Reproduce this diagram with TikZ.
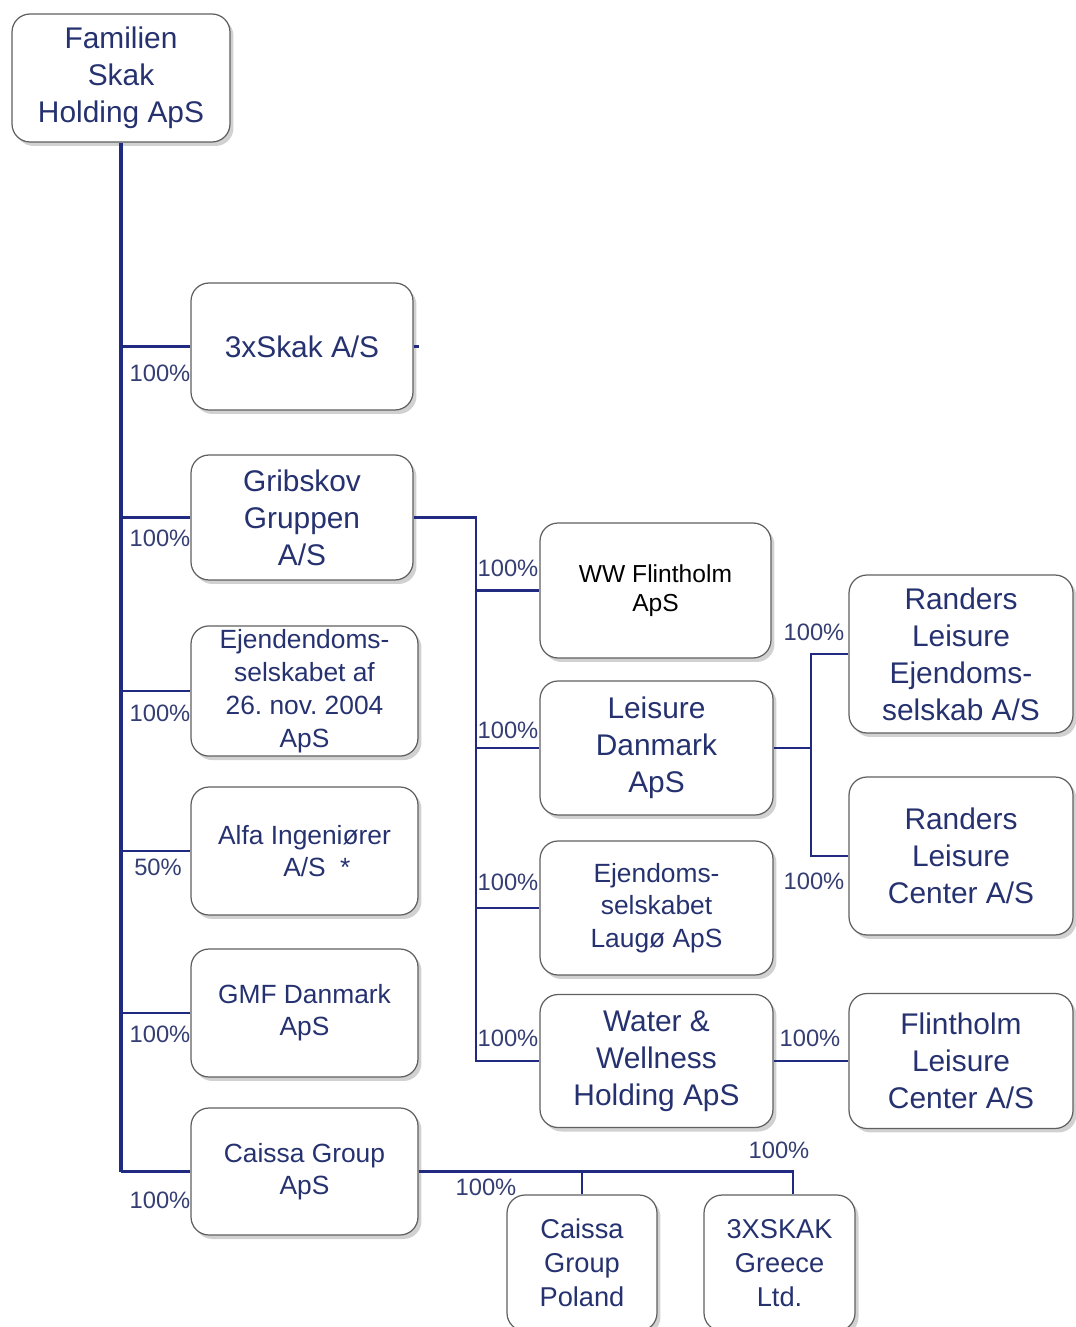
\documentclass[tikz,border=0pt]{standalone}
\usepackage{fontspec}
\setmainfont{Liberation Sans}
\frenchspacing
\usetikzlibrary{shadows}
\definecolor{navy}{RGB}{38,50,112}
\definecolor{linkblue}{RGB}{32,42,128}
\tikzstyle{company}=[rectangle,rounded corners=0.36cm,draw=gray!75!black,line width=0.7pt,fill=white,align=center,text=navy,inner sep=2pt,drop shadow={shadow xshift=0.07cm,shadow yshift=-0.08cm,opacity=0.45,fill=gray!80}]
\tikzstyle{bigtext}=[font=\fontsize{17}{21}\selectfont]
\tikzstyle{smalltext}=[font=\fontsize{15}{18.6}\selectfont]
\tikzstyle{share}=[text=navy!85!gray,font=\fontsize{13.5}{16}\selectfont,inner sep=0pt]
\tikzstyle{link}=[draw=linkblue,line width=1.3pt]
\tikzstyle{trunk}=[draw=linkblue,line width=2.2pt]

\begin{document}
\begin{tikzpicture}[x=0.02cm,y=-0.02cm]
		\useasboundingbox (0,0) rectangle (1075,1327);

		\node[company,bigtext,minimum width=4.36cm,minimum height=2.56cm] (fam) at (121,78) {Familien\\Skak\\Holding ApS};

		\node[company,bigtext,minimum width=4.44cm,minimum height=2.54cm] (skak) at (302,346.5) {3xSkak A/S};
		\node[company,bigtext,minimum width=4.44cm,minimum height=2.5cm] (grib) at (302,517.5) {Gribskov\\Gruppen\\A/S};
		\node[company,font=\fontsize{15}{18.7}\selectfont,minimum width=4.54cm,minimum height=2.56cm] (ejd) at (304.5,691) {Ejendendoms-\\selskabet af\\26. nov. 2004\\ApS};
		\node[company,smalltext,minimum width=4.54cm,minimum height=2.56cm] (alfa) at (304.5,851) {Alfa Ingeniører\\A/S\rlap{\hspace{0.55em}*}};
		\node[company,font=\fontsize{15}{18.2}\selectfont,minimum width=4.54cm,minimum height=2.56cm] (gmf) at (304.5,1013) {GMF Danmark\\ApS};
		\node[company,font=\fontsize{15}{18.2}\selectfont,minimum width=4.54cm,minimum height=2.54cm] (caissa) at (304.5,1171.5) {Caissa Group\\ApS};

		\node[company,text=black,font=\fontsize{14}{16.5}\selectfont,minimum width=4.62cm,minimum height=2.7cm] (ww) at (655.5,590.5) {WW Flintholm\\ApS};
		\node[company,bigtext,minimum width=4.66cm,minimum height=2.68cm] (leis) at (656.5,748) {Leisure\\Danmark\\ApS};
		\node[company,smalltext,minimum width=4.66cm,minimum height=2.68cm] (laug) at (656.5,908) {Ejendoms-\\selskabet\\Laugø ApS};
		\node[company,bigtext,minimum width=4.66cm,minimum height=2.66cm] (water) at (656.5,1061) {Water \&\\Wellness\\Holding ApS};

		\node[company,bigtext,minimum width=4.48cm,minimum height=3.16cm] (rle) at (961,654) {Randers\\Leisure\\Ejendoms-\\selskab A/S};
		\node[company,bigtext,minimum width=4.48cm,minimum height=3.16cm] (rlc) at (961,856) {Randers\\Leisure\\Center A/S};
		\node[company,bigtext,minimum width=4.48cm,minimum height=2.7cm] (flint) at (961,1061) {Flintholm\\Leisure\\Center A/S};

		\node[company,font=\fontsize{15.5}{19.3}\selectfont,minimum width=3cm,minimum height=2.72cm] (pol) at (582,1263) {Caissa\\Group\\Poland};
		\node[company,font=\fontsize{15.5}{19.3}\selectfont,minimum width=3.02cm,minimum height=2.72cm] (grc) at (779.5,1263) {3XSKAK\\Greece\\Ltd.};

		\coordinate (tend) at (fam.south |- caissa.west);
		\draw[trunk] (fam.south) -- (tend);
		\draw[link] (tend) -- (caissa.west);
		\draw[link] (fam.south |- skak.west) -- (skak.west);
		\draw[link] (fam.south |- grib.west) -- (grib.west);
		\draw[link] (fam.south |- ejd.west) -- (ejd.west);
		\draw[link] (fam.south |- alfa.west) -- (alfa.west);
		\draw[link] (fam.south |- gmf.west) -- (gmf.west);
		\draw[link] (skak.east) -- ++(5,0);

		\coordinate (gj) at (476,517.5);
		\draw[link] (grib.east) -- (gj) |- (water.west);
		\draw[link] (gj |- ww.west) -- (ww.west);
		\draw[link] (gj |- leis.west) -- (leis.west);
		\draw[link] (gj |- laug.west) -- (laug.west);

		\coordinate (lj) at (811,748);
		\draw[link] (leis.east) -- (lj);
		\draw[link] (rle.west) -| (lj);
		\draw[link] (lj) |- (rlc.west);

		\draw[link] (water.east) -- (flint.west);

		\coordinate (cj) at (793,1171.5);
		\draw[link] (caissa.east) -- (cj) -- (cj |- grc.north);
		\draw[link] (caissa.east -| pol.north) -- (pol.north);

		\node[share] (pskak) at (160,373) {100\%};
		\node[share] (pgrib) at (160,538) {100\%};
		\node[share] (pejd) at (160,713) {100\%};
		\node[share] (palfa) at (158,867) {50\%};
		\node[share] (pgmf) at (160,1034) {100\%};
		\node[share] (pcaissa) at (160,1200) {100\%};
		\node[share] (pww) at (508,568) {100\%};
		\node[share] (pleis) at (508,730) {100\%};
		\node[share] (plaug) at (508,882) {100\%};
		\node[share] (pwater) at (508,1038) {100\%};
		\node[share] (prle) at (814,632) {100\%};
		\node[share] (prlc) at (814,881) {100\%};
		\node[share] (pflint) at (810,1038) {100\%};
		\node[share] (ppol) at (486,1187) {100\%};
		\node[share] (pgrc) at (779,1150) {100\%};
\end{tikzpicture}
\end{document}
